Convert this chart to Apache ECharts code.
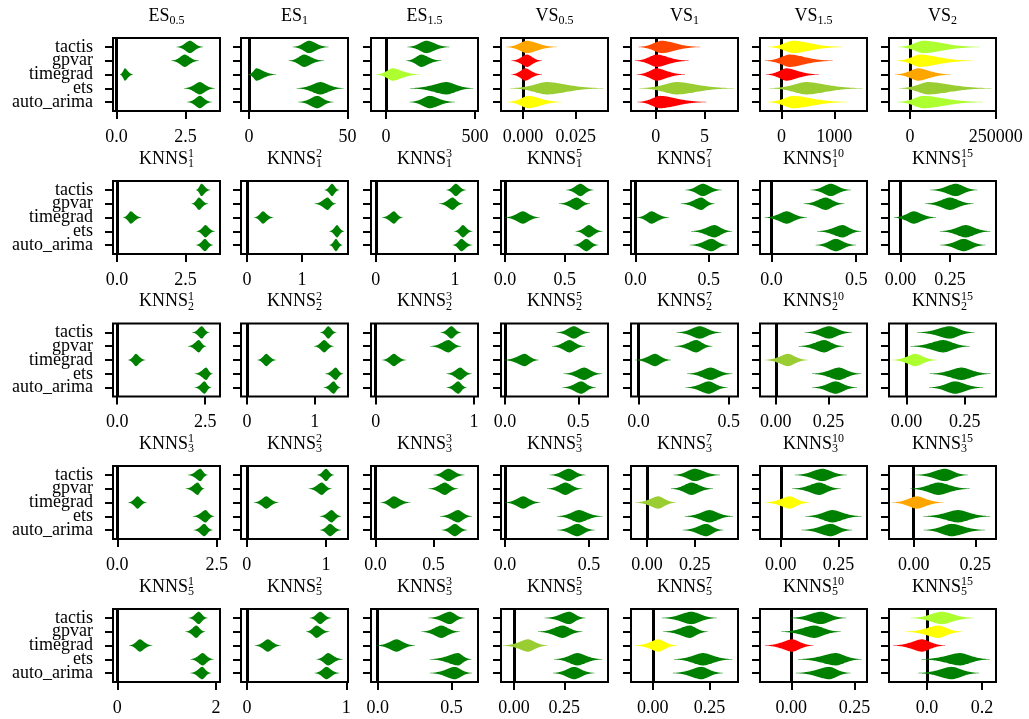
<!DOCTYPE html>
<html>
<head>
<meta charset="utf-8">
<script src="https://cdn.jsdelivr.net/npm/echarts@6.0.0/dist/echarts.min.js"></script>
<style>
  html, body { margin: 0; background: #fff; }
  #chart { width: 1029px; height: 719px; }
</style>
</head>
<body>
<div id="chart"></div>
<script>
const methods = ['tactis', 'gpvar', 'timegrad', 'ets', 'auto_arima'];

// each violin: [low tail, peak, high tail], in method order
const ES05 = [[2.17, 2.66, 3.14], [1.99, 2.47, 2.98], [0.12, 0.30, 0.60], [2.45, 3.02, 3.56], [2.56, 3.02, 3.46]];
const ES1 = [[22.2, 30.5, 40.5], [20.2, 28, 38], [-0.3, 3.8, 13.8], [24.3, 36.3, 48], [25, 34.7, 43]];
const ES15 = [[119, 226, 357], [113, 198, 311], [-57, 37, 189], [136, 340, 490], [132, 245, 387]];
const VS05 = [[-0.008, 0.0019, 0.016], [-0.0055, 0.0019, 0.009], [-0.0055, 0.0011, 0.009], [-0.006, 0.0113, 0.038], [-0.0075, 0.0026, 0.0184]];
const VS1 = [[-1.79, 0.62, 4.56], [-2.13, 0.1, 3.38], [-1.96, 0.1, 3.0], [-1.68, 2.16, 8.0], [-1.89, 0.44, 5.2]];
const VS15 = [[-251, 219, 1156], [-313, 156, 968], [-294, 94, 705], [-219, 469, 1531], [-270, 219, 1250]];
const VS2 = [[-34000, 38700, 203500], [-38700, 29000, 182000], [-43600, 24000, 118000], [-31000, 53000, 237000], [-37000, 38700, 213000]];

const K1_1 = [[2.88, 3.08, 3.41], [2.72, 2.99, 3.33], [0.22, 0.50, 0.89], [2.90, 3.23, 3.57], [2.88, 3.21, 3.51]];
const K1_2 = [[1.41, 1.55, 1.68], [1.23, 1.47, 1.62], [0.13, 0.29, 0.48], [1.50, 1.64, 1.77], [1.50, 1.62, 1.74]];
const K1_3 = [[0.89, 1.01, 1.14], [0.80, 0.97, 1.10], [0.08, 0.23, 0.34], [0.99, 1.10, 1.22], [0.97, 1.08, 1.22]];
const K1_5 = [[0.51, 0.63, 0.74], [0.45, 0.60, 0.71], [0.0, 0.15, 0.29], [0.59, 0.70, 0.815], [0.57, 0.68, 0.78]];
const K1_7 = [[0.34, 0.46, 0.59], [0.31, 0.45, 0.54], [0.01, 0.11, 0.23], [0.38, 0.54, 0.66], [0.37, 0.52, 0.63]];
const K1_10 = [[0.23, 0.35, 0.47], [0.19, 0.32, 0.43], [-0.04, 0.09, 0.21], [0.27, 0.42, 0.53], [0.26, 0.38, 0.50]];
const K1_15 = [[0.15, 0.28, 0.39], [0.125, 0.25, 0.37], [-0.033, 0.067, 0.18], [0.20, 0.33, 0.455], [0.20, 0.32, 0.43]];

const K2_1 = [[2.13, 2.40, 2.62], [2.01, 2.32, 2.53], [0.31, 0.53, 0.80], [2.20, 2.53, 2.71], [2.20, 2.48, 2.67]];
const K2_2 = [[1.08, 1.20, 1.32], [0.99, 1.14, 1.28], [0.155, 0.285, 0.43], [1.155, 1.31, 1.42], [1.13, 1.28, 1.38]];
const K2_3 = [[0.66, 0.77, 0.87], [0.555, 0.74, 0.87], [0.067, 0.185, 0.31], [0.72, 0.86, 0.976], [0.72, 0.84, 0.925]];
const K2_5 = [[0.35, 0.47, 0.58], [0.32, 0.44, 0.545], [-0.005, 0.135, 0.23], [0.40, 0.54, 0.66], [0.39, 0.52, 0.62]];
const K2_7 = [[0.21, 0.34, 0.46], [0.20, 0.32, 0.41], [-0.018, 0.092, 0.18], [0.27, 0.40, 0.52], [0.26, 0.39, 0.495]];
const K2_10 = [[0.136, 0.253, 0.362], [0.108, 0.23, 0.323], [-0.052, 0.058, 0.151], [0.172, 0.30, 0.406], [0.172, 0.284, 0.386]];
const K2_15 = [[0.045, 0.186, 0.292], [0.017, 0.158, 0.271], [-0.061, 0.038, 0.13], [0.10, 0.236, 0.36], [0.097, 0.208, 0.33]];

const K3_1 = [[1.775, 2.09, 2.275], [1.72, 2.025, 2.19], [0.275, 0.51, 0.735], [1.90, 2.22, 2.44], [1.92, 2.19, 2.40]];
const K3_2 = [[0.884, 1.0, 1.10], [0.78, 0.946, 1.07], [0.09, 0.245, 0.40], [0.92, 1.07, 1.19], [0.92, 1.05, 1.19]];
const K3_3 = [[0.50, 0.63, 0.77], [0.457, 0.60, 0.714], [0.043, 0.157, 0.30], [0.557, 0.714, 0.834], [0.571, 0.686, 0.794]];
const K3_5 = [[0.265, 0.38, 0.48], [0.25, 0.36, 0.46], [0.0, 0.108, 0.21], [0.31, 0.44, 0.58], [0.31, 0.43, 0.535]];
const K3_7 = [[0.138, 0.25, 0.383], [0.126, 0.233, 0.345], [-0.06, 0.06, 0.152], [0.198, 0.327, 0.45], [0.186, 0.31, 0.40]];
const K3_10 = [[0.06, 0.181, 0.288], [0.05, 0.167, 0.26], [-0.069, 0.039, 0.124], [0.107, 0.224, 0.35], [0.089, 0.217, 0.31]];
const K3_15 = [[0.007, 0.127, 0.22], [-0.013, 0.10, 0.227], [-0.087, 0.013, 0.12], [0.04, 0.18, 0.31], [0.04, 0.154, 0.29]];

const K5_1 = [[1.44, 1.65, 1.83], [1.38, 1.60, 1.78], [0.24, 0.457, 0.71], [1.48, 1.73, 1.95], [1.48, 1.72, 1.90]];
const K5_2 = [[0.63, 0.737, 0.85], [0.595, 0.70, 0.83], [0.08, 0.21, 0.34], [0.70, 0.816, 0.964], [0.68, 0.80, 0.93]];
const K5_3 = [[0.343, 0.49, 0.59], [0.297, 0.432, 0.557], [-0.007, 0.128, 0.253], [0.354, 0.545, 0.635], [0.354, 0.523, 0.64]];
const K5_5 = [[0.152, 0.275, 0.356], [0.12, 0.242, 0.34], [-0.054, 0.07, 0.168], [0.20, 0.315, 0.438], [0.193, 0.299, 0.40]];
const K5_7 = [[0.039, 0.17, 0.282], [0.046, 0.163, 0.242], [-0.077, 0.025, 0.107], [0.093, 0.221, 0.35], [0.087, 0.214, 0.309]];
const K5_10 = [[-0.007, 0.117, 0.217], [-0.039, 0.091, 0.195], [-0.104, 0.004, 0.087], [0.026, 0.176, 0.277], [0.017, 0.15, 0.234]];
const K5_15 = [[-0.06, 0.054, 0.171], [-0.078, 0.042, 0.128], [-0.122, -0.018, 0.066], [-0.02, 0.12, 0.228], [-0.032, 0.09, 0.19]];

const panelData = [
  [ES05, ES1, ES15, VS05, VS1, VS15, VS2],
  [K1_1, K1_2, K1_3, K1_5, K1_7, K1_10, K1_15],
  [K2_1, K2_2, K2_3, K2_5, K2_7, K2_10, K2_15],
  [K3_1, K3_2, K3_3, K3_5, K3_7, K3_10, K3_15],
  [K5_1, K5_2, K5_3, K5_5, K5_7, K5_10, K5_15]
];

// colour codes per violin: g green, l yellowgreen, k greenyellow, y yellow, o orange, n orangered, r red
const panelColors = [
  ['ggggg', 'ggggg', 'ggkgg', 'orrly', 'nrrlr', 'ynrly', 'kyolk'],
  ['ggggg', 'ggggg', 'ggggg', 'ggggg', 'ggggg', 'ggggg', 'ggggg'],
  ['ggggg', 'ggggg', 'ggggg', 'ggggg', 'ggggg', 'gglgg', 'ggkgg'],
  ['ggggg', 'ggggg', 'ggggg', 'ggggg', 'gglgg', 'ggygg', 'ggogg'],
  ['ggggg', 'ggggg', 'ggggg', 'gglgg', 'ggygg', 'ggrgg', 'kyrgg']
];
const colorOf = { g: '#008000', l: '#9acd32', k: '#adff2f', y: '#ffff00', o: '#ffa500', n: '#ff4500', r: '#ff0000' };

const xLims = [
  [[-0.13, 3.75], [-4, 50.3], [-85, 517], [-0.0104, 0.0402], [-2.54, 8.44], [-407, 1619], [-61000, 250500]],
  [[-0.15, 3.76], [-0.11, 1.84], [-0.06, 1.29], [-0.033, 0.86], [-0.03, 0.70], [-0.068, 0.564], [-0.058, 0.483]],
  [[-0.12, 2.92], [-0.087, 1.49], [-0.047, 1.04], [-0.027, 0.702], [-0.042, 0.552], [-0.075, 0.433], [-0.075, 0.384]],
  [[-0.11, 2.585], [-0.074, 1.276], [-0.04, 0.886], [-0.024, 0.613], [-0.083, 0.476], [-0.09, 0.374], [-0.10, 0.334]],
  [[-0.087, 2.08], [-0.06, 1.017], [-0.045, 0.68], [-0.064, 0.467], [-0.096, 0.375], [-0.124, 0.299], [-0.138, 0.251]]
];
const xTicks = [
  [[0, 2.5], [0, 50], [0, 500], [0, 0.025], [0, 5], [0, 1000], [0, 250000]],
  [[0, 2.5], [0, 1], [0, 1], [0, 0.5], [0, 0.5], [0, 0.5], [0, 0.25]],
  [[0, 2.5], [0, 1], [0, 1], [0, 0.5], [0, 0.5], [0, 0.25], [0, 0.25]],
  [[0, 2.5], [0, 1], [0, 0.5], [0, 0.5], [0, 0.25], [0, 0.25], [0, 0.25]],
  [[0, 2], [0, 1], [0, 0.5], [0, 0.25], [0, 0.25], [0, 0.25], [0, 0.2]]
];
const xTickLabels = [
  [['0.0', '2.5'], ['0', '50'], ['0', '500'], ['0.000', '0.025'], ['0', '5'], ['0', '1000'], ['0', '250000']],
  [['0.0', '2.5'], ['0', '1'], ['0', '1'], ['0.0', '0.5'], ['0.0', '0.5'], ['0.0', '0.5'], ['0.00', '0.25']],
  [['0.0', '2.5'], ['0', '1'], ['0', '1'], ['0.0', '0.5'], ['0.0', '0.5'], ['0.00', '0.25'], ['0.00', '0.25']],
  [['0.0', '2.5'], ['0', '1'], ['0.0', '0.5'], ['0.0', '0.5'], ['0.00', '0.25'], ['0.00', '0.25'], ['0.00', '0.25']],
  [['0', '2'], ['0', '1'], ['0.0', '0.5'], ['0.00', '0.25'], ['0.00', '0.25'], ['0.00', '0.25'], ['0.0', '0.2']]
];

const topTitles = [['ES', '0.5'], ['ES', '1'], ['ES', '1.5'], ['VS', '0.5'], ['VS', '1'], ['VS', '1.5'], ['VS', '2']];
const knnsK = ['1', '2', '3', '5', '7', '10', '15'];
const knnsR = ['1', '2', '3', '5'];

const colLeft = [113, 241, 371, 501, 631, 760, 889];
const rowTop = [38, 181, 323.5, 466, 609];
const PW = 107, PH = 73;
const FONT = 'Liberation Serif';
const HALF = 0.45;

function violinPoints(api, y, lo, mid, hi) {
  const n = 40;
  const topEdge = [], botEdge = [];
  const push = (u, t) => {
    const h = HALF * Math.exp(-3.6 * Math.pow(Math.abs(t), 1.8));
    topEdge.push(api.coord([u, y - h]));
    botEdge.push(api.coord([u, y + h]));
  };
  for (let j = 0; j <= n; j++) {
    const t = 1 - j / n;
    push(mid - (mid - lo) * t, t);
  }
  for (let j = 1; j <= n; j++) {
    const t = j / n;
    push(mid + (hi - mid) * t, t);
  }
  return topEdge.concat(botEdge.reverse());
}

const option = { animation: false, grid: [], xAxis: [], yAxis: [], series: [], graphic: [] };
const labelAxes = [];

const richStyles = {
  m: { fontFamily: FONT, fontSize: 18, lineHeight: 22, fill: '#000' },
  sub: { fontFamily: FONT, fontSize: 12, lineHeight: 12, verticalAlign: 'bottom', fill: '#000' },
  sup: { fontFamily: FONT, fontSize: 12, lineHeight: 14, verticalAlign: 'top', fill: '#000' },
  hid: { fontFamily: FONT, fontSize: 12, lineHeight: 12, verticalAlign: 'bottom', fill: 'rgba(0,0,0,0)' }
};

function methodAxis(i, tickVals, labelVals, showLabel) {
  return {
    type: 'value', gridIndex: i, position: 'left', inverse: true, min: -0.65, max: 4.65,
    axisLine: { show: false, onZero: false }, splitLine: { show: false },
    axisTick: { show: tickVals.length > 0, customValues: tickVals, length: 8, lineStyle: { color: '#000', width: 2 } },
    axisLabel: {
      show: showLabel, customValues: labelVals, margin: 20, color: '#000',
      showMinLabel: true, showMaxLabel: true, hideOverlap: false,
      fontFamily: FONT, fontSize: 18, formatter: v => methods[Math.round(v)]
    }
  };
}

for (let r = 0; r < 5; r++) {
  for (let c = 0; c < 7; c++) {
    const i = r * 7 + c;
    const ticks = xTicks[r][c];
    const labels = xTickLabels[r][c];
    const cols = panelColors[r][c];
    option.grid.push({
      left: colLeft[c], top: rowTop[r], width: PW, height: PH,
      show: true, borderColor: '#000', borderWidth: 2, backgroundColor: 'transparent'
    });
    option.xAxis.push({
      type: 'value', gridIndex: i, position: 'bottom', min: xLims[r][c][0], max: xLims[r][c][1],
      axisLine: { show: false, onZero: false }, splitLine: { show: false },
      axisTick: { customValues: ticks, length: 8, lineStyle: { color: '#000', width: 2 } },
      axisLabel: {
        customValues: ticks, margin: 17, color: '#000', fontFamily: FONT, fontSize: 18,
        showMinLabel: true, showMaxLabel: true, hideOverlap: false,
        formatter: v => {
          const k = ticks.findIndex(t => Math.abs(t - v) < 1e-9 * Math.max(1, Math.abs(t)));
          return k >= 0 ? labels[k] : '';
        }
      }
    });
    // the labels would collide, so alternate rows go on a second, tick-less axis
    option.yAxis.push(methodAxis(i, [0, 1, 2, 3, 4], [0, 2, 4], c === 0));
    if (c === 0) labelAxes.push(methodAxis(i, [], [1, 3], true));

    option.series.push({
      type: 'custom', xAxisIndex: i, yAxisIndex: i, z: 3, clip: true, silent: true,
      data: panelData[r][c].map((v, k) => [k, v[0], v[1], v[2]]),
      encode: { x: [1, 2, 3], y: 0 },
      renderItem: (params, api) => ({
        type: 'polygon',
        shape: { points: violinPoints(api, api.value(0), api.value(1), api.value(2), api.value(3)) },
        style: { fill: colorOf[cols[params.dataIndex]] }
      }),
      markLine: {
        silent: true, symbol: 'none', z: 1, animation: false,
        label: { show: false },
        lineStyle: { color: '#000', width: 3, type: 'solid' },
        data: [{ xAxis: 0 }]
      }
    });

    const cx = colLeft[c] + PW / 2, ty = rowTop[r] - 11;
    if (r === 0) {
      option.graphic.push({
        type: 'text', x: cx, y: ty, silent: true,
        style: { text: `{m|${topTitles[c][0]}}{sub|${topTitles[c][1]}}`, rich: richStyles, align: 'center', verticalAlign: 'bottom' }
      });
    } else {
      const k = knnsK[c], rr = knnsR[r - 1];
      const pad = k.length > 1 ? '0' : '';
      option.graphic.push({
        type: 'text', x: cx, y: ty, silent: true,
        style: { text: `{m|KNNS}{sup|${k}}`, rich: richStyles, align: 'center', verticalAlign: 'bottom' }
      });
      option.graphic.push({
        type: 'text', x: cx, y: ty, silent: true,
        style: { text: `{m|KNNS}{sub|${rr}}` + (pad ? `{hid|${pad}}` : ''), rich: Object.assign({}, richStyles, { m: Object.assign({}, richStyles.m, { fill: 'rgba(0,0,0,0)' }) }), align: 'center', verticalAlign: 'bottom' }
      });
    }
  }
}
option.yAxis = option.yAxis.concat(labelAxes);

const chart = echarts.init(document.getElementById('chart'), null, { renderer: 'canvas' });
chart.setOption(option);
</script>
</body>
</html>
